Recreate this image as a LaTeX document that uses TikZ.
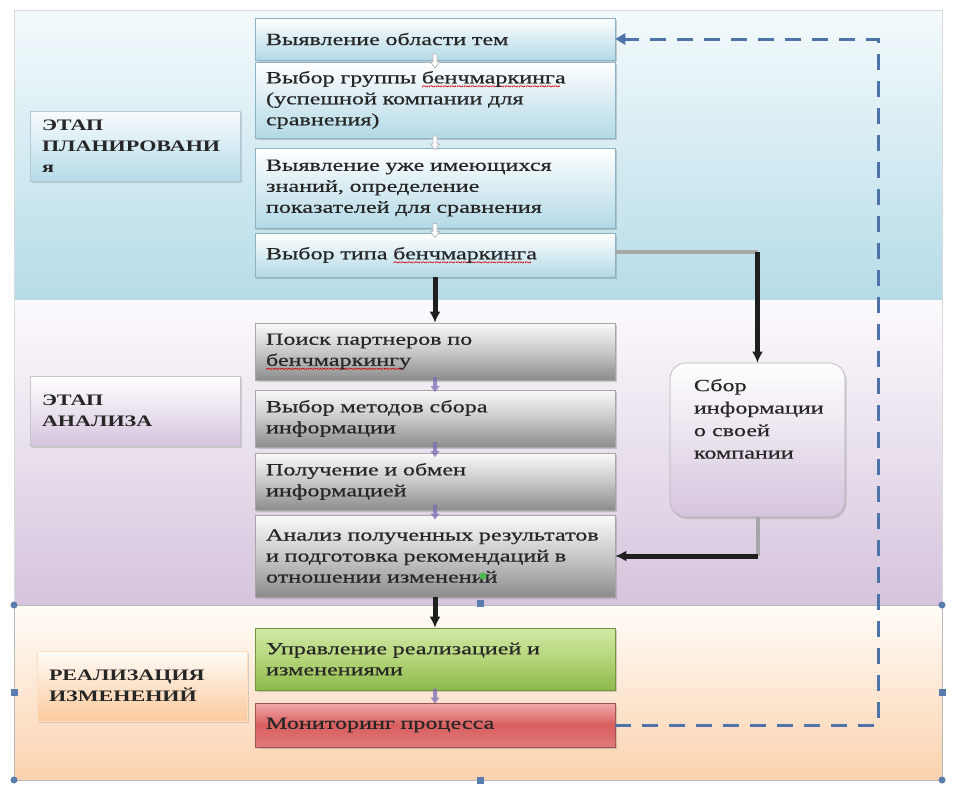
\documentclass[tikz,border=0pt]{standalone}
\usepackage{fontspec}
\setmainfont{Liberation Serif}
\newfontfamily\bxfont{Liberation Serif}[FakeStretch=1.42, FakeBold=0.5]
\newfontfamily\stfont{Liberation Serif Bold}[FakeStretch=1.38]
\usetikzlibrary{arrows.meta,shadows,calc}
\newcommand\redwave[1]{\leavevmode\setbox0=\hbox{#1}\rlap{\raisebox{-6pt}[0pt][0pt]{\textcolor{red!85!black}{\hbox to \wd0{\fontsize{9}{9}\selectfont\leaders\hbox{\char`\~}\hfill}}}}\box0}
\definecolor{bandAtop}{HTML}{F4FAFC}
\definecolor{bandAbot}{HTML}{B5DCE8}
\definecolor{bandBtop}{HTML}{FCFAFD}
\definecolor{bandBbot}{HTML}{D5C4DC}
\definecolor{bandCtop}{HTML}{FFFCF8}
\definecolor{bandCbot}{HTML}{FBD2AE}
\definecolor{blueboxbot}{HTML}{B2D9E6}
\definecolor{blueboxedge}{HTML}{8CB2C4}
\definecolor{grayboxbot}{HTML}{8C8C8C}
\definecolor{grayboxmid}{HTML}{C8C8C8}
\definecolor{greentop}{HTML}{D2E8A6}
\definecolor{greenmid}{HTML}{B4D578}
\definecolor{greenbot}{HTML}{8DBA4C}
\definecolor{redtop}{HTML}{F2AAAA}
\definecolor{redmid}{HTML}{D95E5E}
\definecolor{redbot}{HTML}{E07A7A}
\definecolor{dashblue}{HTML}{4E73A8}
\definecolor{handleblue}{HTML}{5A7DB0}
\definecolor{arrpurple}{HTML}{7B6DB5}
\definecolor{txt}{HTML}{262626}
\begin{document}
\begin{tikzpicture}[x=1pt,y=-1pt,
  boxtext/.style={font=\bxfont\fontsize{17}{21}\selectfont, text=txt, align=left},
  flowbox/.style={rectangle, boxtext, minimum width=360pt, text width=338pt, inner xsep=11pt, inner ysep=2pt,
     drop shadow={opacity=0.35, shadow xshift=1.5pt, shadow yshift=-2pt}},
  bluebox/.style={flowbox, draw=blueboxedge, line width=0.6pt, top color=white, bottom color=blueboxbot},
  graybox/.style={flowbox, draw=gray!70, line width=0.6pt, top color=white!96!gray, bottom color=grayboxbot, middle color=grayboxmid},
  greenbox/.style={flowbox, draw=greenbot!80!black, line width=0.6pt, top color=greentop, bottom color=greenbot, middle color=greenmid},
  redbox/.style={flowbox, draw=redbot!70!black, line width=0.6pt, top color=redtop, bottom color=redbot, middle color=redmid},
  stagebox/.style={rectangle, minimum width=210pt, minimum height=70pt, text width=186pt, inner xsep=12pt,
     align=left, font=\stfont\fontsize{16}{21}\selectfont, text=txt, line width=0.5pt,
     drop shadow={opacity=0.3, shadow xshift=1.5pt, shadow yshift=-2pt}},
  blackarrow/.style={draw=black!88, line width=5pt, -{Latex[length=11pt,width=11pt]}},
  grayline/.style={draw=gray!70, line width=4pt},
  dashloop/.style={draw=dashblue, line width=3pt, dash pattern=on 16pt off 11pt, -{Triangle[length=10pt,width=11pt]}},
  hollowarr/.pic={\draw[gray!55, fill=white, line width=0.7pt] (-2,-7) -- (2,-7) -- (2,1) -- (4.5,1) -- (0,7) -- (-4.5,1) -- (-2,1) -- cycle;},
  purplearr/.pic={\fill[arrpurple, opacity=0.75] (-2,-8) -- (2,-8) -- (2,1) -- (4.5,1) -- (0,7) -- (-4.5,1) -- (-2,1) -- cycle;},
  handlecirc/.style={circle, fill=handleblue, inner sep=0pt, minimum size=7pt},
  handlesq/.style={rectangle, fill=handleblue, inner sep=0pt, minimum size=7pt}
]
\useasboundingbox[fill=white] (0,0) rectangle (959,785);

% bands
\path[top color=bandAtop, bottom color=bandAbot] (14,10) rectangle (942,300);
\path[top color=bandBtop, bottom color=bandBbot] (14,300) rectangle (942,605);
\path[top color=bandCtop, bottom color=bandCbot] (14,605) rectangle (942,780);
\draw[gray!30, line width=0.6pt] (14,10) rectangle (942,605);
\draw[gray!55, line width=0.6pt] (14,605) rectangle (942,780);

% stage labels
\node[stagebox, top color=white!90!bandAbot, bottom color=bandAbot, draw=blueboxedge!70] (s1) at (135,146) {ЭТАП\\ПЛАНИРОВАНИ\\я};
\node[stagebox, top color=white, bottom color=bandBbot, draw=gray!45] (s2) at (135,411) {ЭТАП\\АНАЛИЗА};
\node[stagebox, top color=bandCtop, bottom color=bandCbot!90!orange, draw=orange!25] (s3) at (142,686) {РЕАЛИЗАЦИЯ\\ИЗМЕНЕНИЙ};

% flow boxes
\node[bluebox, minimum height=42pt] (b1) at (435,39) {Выявление области тем};
\node[bluebox, minimum height=76pt] (b2) at (435,100) {Выбор группы \redwave{бенчмаркинга}\\(успешной компании для\\сравнения)};
\node[bluebox, minimum height=80pt] (b3) at (435,188) {Выявление уже имеющихся\\знаний, определение\\показателей для сравнения};
\node[bluebox, minimum height=44pt] (b4) at (435,255) {Выбор типа \redwave{бенчмаркинга}};
\node[graybox, minimum height=57pt] (b5) at (435,351.5) {Поиск партнеров по\\\redwave{бенчмаркингу}};
\node[graybox, minimum height=57pt] (b6) at (435,418.5) {Выбор методов сбора\\информации};
\node[graybox, minimum height=57pt] (b7) at (435,481.5) {Получение и обмен\\информацией};
\node[graybox, minimum height=82pt] (b8) at (435,556) {Анализ полученных результатов\\и подготовка рекомендаций в\\отношении изменений};
\node[greenbox, minimum height=62pt] (b9) at (435,659) {Управление реализацией и\\изменениями};
\node[redbox, minimum height=44pt] (b10) at (435,725) {Мониторинг процесса};

% side box
\node[rectangle, rounded corners=16pt, minimum width=175pt, minimum height=154pt, draw=gray!60, line width=0.6pt,
      top color=white, bottom color=bandBbot, drop shadow={opacity=0.3, shadow xshift=1.5pt, shadow yshift=-2pt}] (sb) at (757.5,440) {};
\node[boxtext, anchor=north west, inner sep=0pt, font=\bxfont\fontsize{17}{22.5}\selectfont] (sbt) at ($(sb.north west)+(24,16)$) {Сбор\\информации\\о своей\\компании};

% small arrows between boxes
\pic at ($(b1.south)!0.5!(b2.north)$) {hollowarr};
\pic at ($(b2.south)!0.5!(b3.north)$) {hollowarr};
\pic at ($(b3.south)!0.5!(b4.north)$) {hollowarr};
\pic at ($(b5.south)!0.5!(b6.north)$) {purplearr};
\pic at ($(b6.south)!0.5!(b7.north)$) {purplearr};
\pic at ($(b7.south)!0.5!(b8.north)$) {purplearr};
\pic at ($(b9.south)!0.5!(b10.north)$) {purplearr};

% main connectors
\draw[blackarrow] (b4.south) -- (b5.north);
\draw[blackarrow] (b8.south) -- (b9.north);
\coordinate (g1) at ($(b4.east -| sb.north)+(0,-3)$);
\draw[grayline] ($(b4.east)+(0,-3)$) -- (g1);
\draw[blackarrow] (g1) -- (sb.north);
\coordinate (g2) at (sb.south |- b8.east);
\draw[grayline] (sb.south) -- (g2);
\draw[blackarrow] (g2) -- (b8.east);

% feedback loop
\coordinate (d1) at ($(b10.east)+(263,0)$);
\draw[dashloop] (b10.east) -- (d1) |- (b1.east);

% selection handles
\node[handlecirc] (h1) at (14,605) {};
\node[handlecirc] (h2) at (942,605) {};
\node[handlecirc] (h3) at (14,780) {};
\node[handlecirc] (h4) at (942,780) {};
\node[handlesq] (h5) at (14,692) {};
\node[handlesq] (h6) at (942,692) {};
\node[handlesq] (h7) at (480,603) {};
\node[handlesq] (h8) at (480,780) {};
\node[circle, fill=green!60!black!70, inner sep=0pt, minimum size=7pt] (h9) at (483,576) {};
\end{tikzpicture}
\end{document}
